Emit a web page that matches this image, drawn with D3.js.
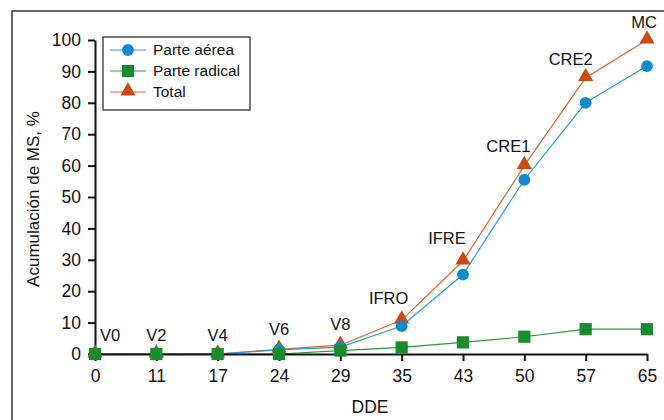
<!DOCTYPE html>
<html>
<head>
<meta charset="utf-8">
<script src="https://cdn.jsdelivr.net/npm/d3@7"></script>
<style>
  body { margin: 0; background: #fff; }
  text { font-family: "Liberation Sans", Arial, sans-serif; fill: #111; }
</style>
</head>
<body>
<div id="caja"></div>
<script>
// datos
var dde = ["0", "11", "17", "24", "29", "35", "43", "50", "57", "65"];
var etapas = ["V0", "V2", "V4", "V6", "V8", "IFRO", "IFRE", "CRE1", "CRE2", "MC"];
var aerea = [0, 0, 0, 1.3, 2.2, 8.9, 25.3, 55.5, 80, 91.7];
var radical = [0, 0, 0, 0, 1.1, 2.1, 3.7, 5.5, 7.9, 7.9];
var total = [0, 0, 0, 1.5, 2.8, 10.8, 29.6, 60, 88, 100];
var yTicks = [0, 10, 20, 30, 40, 50, 60, 70, 80, 90, 100];

// desplazamiento de las etiquetas de etapa (dx, dy)
var offEtq = [[15, -7], [0, -7], [0, -7], [0, -8], [0, -9], [-13, -10], [-16, -11], [-16, -8], [-15, -7], [-3, -6]];

var w = 664, h = 420;

var svg = d3.select('#caja')
  .append('svg')
  .attr('width', w)
  .attr('height', h);

// marco
svg.append("rect")
  .attr("x", 12).attr("y", 11)
  .attr("width", 700).attr("height", 460)
  .attr("fill", "none")
  .attr("stroke", "#333")
  .attr("stroke-width", 1.5);

var x = d3.scalePoint().domain(dde).range([95, 647]);
var y = d3.scaleLinear().domain([0, 100]).range([354, 40]);

var series = [
  {nombre: "Total", vals: total, linea: "#d8622e", color: "#cc4a12", forma: d3.symbolTriangle, tam: 100},
  {nombre: "Parte aérea", vals: aerea, linea: "#2a9ad8", color: "#0f8bcf", forma: d3.symbolCircle, tam: 110},
  {nombre: "Parte radical", vals: radical, linea: "#2b9a3c", color: "#1a8c2e", forma: d3.symbolSquare, tam: 150}
];

var linea = d3.line()
  .x(function(d, i) { return x(dde[i]); })
  .y(function(d) { return y(d); });

series.forEach(function(s) {
  svg.append("path")
    .attr("d", linea(s.vals))
    .attr("fill", "none")
    .attr("stroke", s.linea)
    .attr("stroke-width", 1.2);
});

// ejes
var ejeY = svg.append("g")
  .attr("transform", "translate(95,0)")
  .call(d3.axisLeft(y).tickValues(yTicks).tickSize(7).tickSizeOuter(0).tickPadding(7));
var ejeX = svg.append("g")
  .attr("transform", "translate(0,354)")
  .call(d3.axisBottom(x).tickSize(7).tickSizeOuter(0).tickPadding(9));

[ejeY, ejeX].forEach(function(g) {
  g.select(".domain").attr("stroke", "#111").attr("stroke-width", 2);
  g.selectAll(".tick line").attr("stroke", "#111").attr("stroke-width", 2);
  g.selectAll(".tick text")
    .style("font-family", '"Liberation Sans", Arial, sans-serif')
    .style("font-size", "17.5px")
    .attr("fill", "#111");
});

// marcadores
series.forEach(function(s) {
  svg.append("g").selectAll("path")
    .data(s.vals)
    .enter()
    .append("path")
    .attr("d", d3.symbol().type(s.forma).size(s.tam))
    .attr("transform", function(d, i) {
      var dy = s.forma === d3.symbolTriangle ? -1 : 0;
      return "translate(" + x(dde[i]) + "," + (y(d) + dy) + ")";
    })
    .attr("fill", s.color);
});

// etiquetas de etapas
svg.append("g").selectAll("text")
  .data(etapas)
  .enter()
  .append("text")
  .attr("x", function(d, i) { return x(dde[i]) + offEtq[i][0]; })
  .attr("y", function(d, i) { return y(total[i]) - 6 + offEtq[i][1]; })
  .attr("text-anchor", "middle")
  .style("font-size", "16.5px")
  .text(function(d) { return d; });

// titulos
svg.append("text")
  .attr("x", 370).attr("y", 413)
  .attr("text-anchor", "middle")
  .style("font-size", "17.5px")
  .text("DDE");

svg.append("text")
  .attr("transform", "translate(39,199) rotate(-90)")
  .attr("text-anchor", "middle")
  .style("font-size", "17px")
  .text("Acumulación de MS, %");

// leyenda
var ley = svg.append("g").attr("transform", "translate(103,37)");
ley.append("rect")
  .attr("width", 147).attr("height", 73)
  .attr("fill", "#fff")
  .attr("stroke", "#222")
  .attr("stroke-width", 1.2);

var orden = [series[1], series[2], series[0]];
orden.forEach(function(s, i) {
  var yy = 13 + i * 21;
  ley.append("line")
    .attr("x1", 7).attr("x2", 43)
    .attr("y1", yy).attr("y2", yy)
    .attr("stroke", s.linea)
    .attr("stroke-width", 1.2);
  ley.append("path")
    .attr("d", d3.symbol().type(s.forma).size(s.tam))
    .attr("transform", "translate(25," + (yy + (s.forma === d3.symbolTriangle ? -1 : 0)) + ")")
    .attr("fill", s.color);
  ley.append("text")
    .attr("x", 50).attr("y", yy + 5)
    .style("font-size", "15.5px")
    .text(s.nombre);
});
</script>
</body>
</html>
